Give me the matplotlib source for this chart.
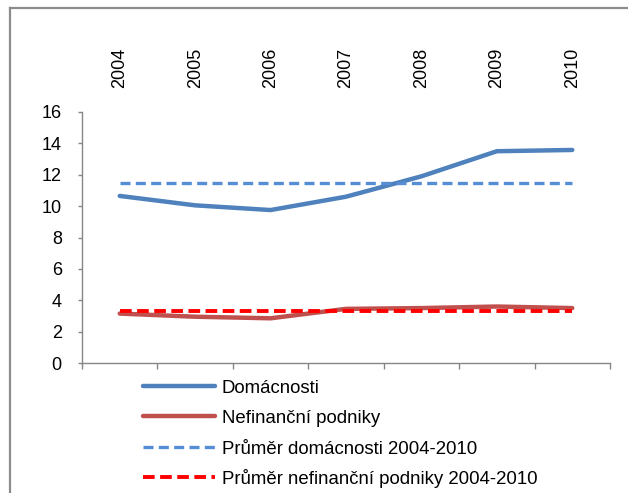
import matplotlib
matplotlib.use("Agg")
import matplotlib.pyplot as plt
from matplotlib.lines import Line2D

plt.rcParams["font.family"] = ["Liberation Sans", "DejaVu Sans"]

# Data
years = ["2004", "2005", "2006", "2007", "2008", "2009", "2010"]
domacnosti = [10.65, 10.05, 9.75, 10.6, 11.9, 13.5, 13.58]
nefinancni = [3.15, 2.95, 2.85, 3.45, 3.5, 3.6, 3.5]
prumer_domacnosti = [11.45] * 7
prumer_nefinancni = [3.3] * 7
labels = [
    "Domácnosti",
    "Nefinanční podniky",
    "Průměr domácnosti 2004-2010",
    "Průměr nefinanční podniky 2004-2010",
]

W, H = 628, 493
fig = plt.figure(figsize=(W / 100, H / 100), dpi=100)
ax = fig.add_axes([82 / W, 1 - 363 / H, (610 - 82) / W, (363 - 112) / H])

x = list(range(len(years)))
styles = [
    dict(color="#4F81BD", lw=3.2, solid_capstyle="round", zorder=3),
    dict(color="#C0504D", lw=3.2, solid_capstyle="round", zorder=3),
    dict(color="#558ED5", lw=2.4, dashes=(3, 1.6), zorder=4),
    dict(color="#FF0000", lw=2.8, dashes=(3, 1.4), zorder=4),
]
series = [domacnosti, nefinancni, prumer_domacnosti, prumer_nefinancni]
for vals, st in zip(series, styles):
    ax.plot(x, vals, **st)

ax.set_xlim(-0.5, len(years) - 0.5)
ax.set_ylim(0, 16)
ax.set_yticks(range(0, 17, 2))

# bottom axis: ticks between categories, no labels
ax.set_xticks([i - 0.5 for i in range(len(years) + 1)])
ax.set_xticklabels([])
ax.tick_params(axis="x", direction="out", length=4.5, color="#868686", width=1)
ax.tick_params(axis="y", direction="out", length=3, color="#868686", width=1,
               labelsize=13, pad=11.5)

for side in ["top", "right"]:
    ax.spines[side].set_visible(False)
for side in ["left", "bottom"]:
    ax.spines[side].set_color("#868686")
    ax.spines[side].set_linewidth(1)

# year labels on top, rotated
top = ax.secondary_xaxis("top")
top.set_xticks(x)
top.set_xticklabels(years, rotation=90, fontsize=13)
top.tick_params(length=0, pad=17)
top.spines["top"].set_visible(False)

# legend drawn as rows with even spacing
for i, (lab, st) in enumerate(zip(labels, styles)):
    yc = 1 - (386 + 30.4 * i) / H
    st = {k: v for k, v in st.items() if k != "zorder"}
    fig.add_artist(Line2D([143 / W, 215 / W], [yc, yc], **st))
    fig.text(222 / W, yc - 6.7 / H, lab, fontsize=13.4, va="baseline", ha="left")

# outer chart border (top and left visible)
fig.add_artist(Line2D([10 / W, 1], [1 - 8 / H, 1 - 8 / H], color="#8C8C8C", lw=1.6))
fig.add_artist(Line2D([10 / W, 10 / W], [0, 1 - 8 / H], color="#8C8C8C", lw=1.6))

fig.savefig("out.png", dpi=100)
